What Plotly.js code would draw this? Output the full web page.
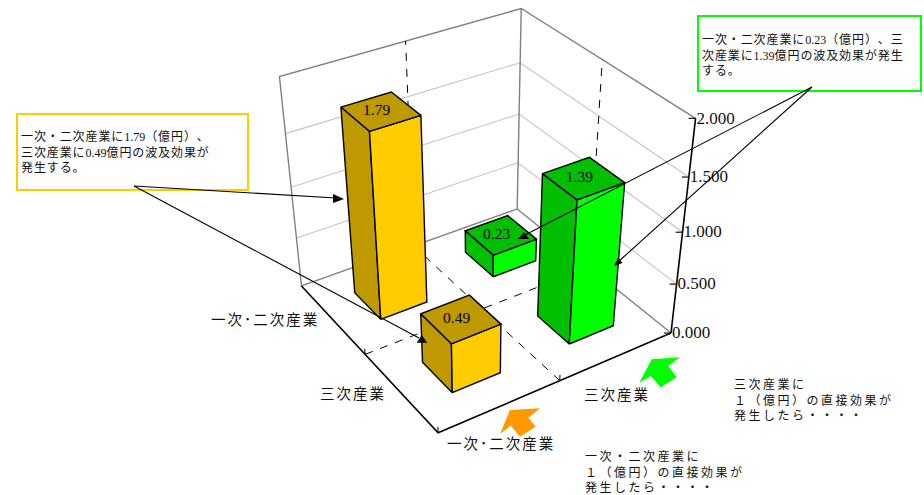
<!DOCTYPE html>
<html lang="ja">
<head>
<meta charset="utf-8">
<title>波及効果</title>
<script src="https://cdn.plot.ly/plotly-3.0.1.min.js"></script>
<style>
html, body { margin: 0; padding: 0; background: #fff; }
#chart { width: 924px; height: 495px; }
#chart text, #chart tspan { text-spacing-trim: space-all; font-feature-settings: "palt" 0; }
</style>
</head>
<body>
<div id="chart"></div>
<script>
// Inter-industry ripple effects: direct effect of one 億円 by source sector and receiving sector.
const sourceCategories = ['一次･二次産業', '三次産業'];
const receiverCategories = ['三次産業', '一次･二次産業'];
const rippleValues = [
  [0.49, 1.39],   // receiver 三次産業: source 一次・二次, source 三次
  [1.79, 0.23]    // receiver 一次・二次産業: source 一次・二次, source 三次
];
const heightTicks = [0, 0.5, 1, 1.5, 2];
const heightMax = 2;
const barHalfWidth = 0.1;

const SERIF = "Liberation Serif";
const GOTHIC = "Noto Sans CJK JP";
const AMBER = { side: '#BF9900', front: '#FFCC00' };
const GREEN = { side: '#00BF00', front: '#00FF00' };
const sourceColors = [AMBER, GREEN];

// Perspective view: model (u, v, z) -> screen, fitted by least squares on the box corners.
const viewAnchors = [
  [0, 0, 0, 438, 433], [1, 0, 0, 671, 332.7], [0, 1, 0, 301.7, 285.7], [1, 1, 0, 516.7, 209.3],
  [1, 1, 2, 521.7, 8.3], [0, 1, 2, 279.3, 76.7], [1, 0, 2, 695, 118.3],
  [1, 0, 1, 682.3, 232.3], [1, 0, 0.5, 677.3, 284], [1, 0, 1.5, 689, 177.3]
];

function solveLinear(A, b) {
  const n = b.length, M = A.map((r, i) => r.concat(b[i]));
  for (let c = 0; c < n; c++) {
    let p = c;
    for (let r = c + 1; r < n; r++) if (Math.abs(M[r][c]) > Math.abs(M[p][c])) p = r;
    [M[c], M[p]] = [M[p], M[c]];
    for (let r = 0; r < n; r++) {
      if (r === c) continue;
      const f = M[r][c] / M[c][c];
      for (let k = c; k <= n; k++) M[r][k] -= f * M[c][k];
    }
  }
  return M.map((r, i) => r[n] / r[i]);
}

function fitView(anchors) {
  const rows = [], rhs = [];
  anchors.forEach(([u, v, z, X, Y]) => {
    rows.push([u, v, z, 1, 0, 0, 0, 0, -X * u, -X * v, -X * z]); rhs.push(X);
    rows.push([0, 0, 0, 0, u, v, z, 1, -Y * u, -Y * v, -Y * z]); rhs.push(Y);
  });
  const N = 11, AtA = [], Atb = [];
  for (let i = 0; i < N; i++) {
    AtA.push([]);
    for (let j = 0; j < N; j++) AtA[i].push(rows.reduce((s, r) => s + r[i] * r[j], 0));
    Atb.push(rows.reduce((s, r, k) => s + r[i] * rhs[k], 0));
  }
  return solveLinear(AtA, Atb);
}

const P = fitView(viewAnchors);
function project(u, v, z) {
  const w = P[8] * u + P[9] * v + P[10] * z + 1;
  return [(P[0] * u + P[1] * v + P[2] * z + P[3]) / w, (P[4] * u + P[5] * v + P[6] * z + P[7]) / w];
}

const traces = [];
function polyline(points, line) {
  const xy = points.map(p => project(p[0], p[1], p[2]));
  traces.push({
    type: 'scatter', mode: 'lines', hoverinfo: 'skip', showlegend: false,
    x: xy.map(p => p[0]), y: xy.map(p => p[1]), line
  });
}
function face(points, fill) {
  const xy = points.concat([points[0]]).map(p => project(p[0], p[1], p[2]));
  traces.push({
    type: 'scatter', mode: 'lines', fill: 'toself', fillcolor: fill, hoverinfo: 'skip', showlegend: false,
    x: xy.map(p => p[0]), y: xy.map(p => p[1]), line: { color: '#000', width: 1.4 }
  });
}

// Back walls and gridlines
const GRID = { color: '#C4C4C4', width: 1.1 };
const FRAME = { color: '#808080', width: 1.4 };
const INK = { color: '#000', width: 1.6 };
heightTicks.slice(1, -1).forEach(z => polyline([[0, 1, z], [1, 1, z], [1, 0, z]], GRID));
polyline([[0, 1, 0], [0, 1, heightMax], [1, 1, heightMax], [1, 0, heightMax]], FRAME);
polyline([[1, 1, heightMax], [1, 1, 0]], FRAME);
polyline([[0, 1, 0], [1, 1, 0], [1, 0, 0]], FRAME);

// Category dividers across the floor and up the walls
const DASH = { color: '#000', width: 1, dash: '8px,8px' };
polyline([[0, 0.5, 0], [1, 0.5, 0], [1, 0.5, heightMax]], DASH);
polyline([[0.5, 0, 0], [0.5, 1, 0], [0.5, 1, heightMax]], DASH);

// Floor front edges
polyline([[0, 1, 0], [0, 0, 0], [1, 0, 0]], INK);
[[0.5, 0], [0, 0], [0, 0.5]].forEach(([u, v]) => polyline([[u, v, 0], [u, v, 0.06]], { color: '#000', width: 1 }));

// Bars, far cells first
const cells = [[1, 1], [0, 1], [1, 0], [0, 0]];
const labelX = [], labelY = [], labelText = [];
cells.forEach(([s, r]) => {
  const value = rippleValues[r][s];
  const uc = 0.25 + 0.5 * s, vc = 0.25 + 0.5 * r, h = barHalfWidth;
  const u0 = uc - h, u1 = uc + h, v0 = vc - h, v1 = vc + h;
  const c = sourceColors[s];
  face([[u0, v0, 0], [u0, v1, 0], [u0, v1, value], [u0, v0, value]], c.side);
  face([[u0, v0, 0], [u1, v0, 0], [u1, v0, value], [u0, v0, value]], c.front);
  face([[u0, v0, value], [u1, v0, value], [u1, v1, value], [u0, v1, value]], c.side);
  const t = [[u0, v0], [u1, v0], [u1, v1], [u0, v1]].map(q => project(q[0], q[1], value));
  labelX.push(t.reduce((a, q) => a + q[0], 0) / 4 - 4);
  labelY.push(t.reduce((a, q) => a + q[1], 0) / 4);
  labelText.push(value.toFixed(2));
});
traces.push({
  type: 'scatter', mode: 'text', hoverinfo: 'skip', showlegend: false,
  x: labelX, y: labelY, text: labelText, textposition: 'middle center',
  textfont: { family: SERIF, size: 15.5, color: '#000' }
});

// Height axis on the right corner
polyline([[1, 0, 0], [1, 0, heightMax]], INK);
const tickPts = heightTicks.map(z => project(1, 0, z));
tickPts.forEach(p => traces.push({
  type: 'scatter', mode: 'lines', hoverinfo: 'skip', showlegend: false,
  x: [p[0] - 7, p[0]], y: [p[1], p[1]], line: { color: '#000', width: 1.1 }
}));
traces.push({
  type: 'scatter', mode: 'text', hoverinfo: 'skip', showlegend: false,
  x: tickPts.map(p => p[0] + 1), y: tickPts.map(p => p[1] + 1),
  text: heightTicks.map(z => z.toFixed(3)), textposition: 'middle right',
  textfont: { family: SERIF, size: 17, color: '#111' }
});

// Text blocks
const num = s => `<span style="font-family:'${SERIF}';letter-spacing:0">${s}</span>`;
function block(x, y, text, size, spacing) {
  return {
    xref: 'x', yref: 'y', x, y, xanchor: 'left', yanchor: 'top', align: 'left', showarrow: false,
    borderpad: 0, font: { family: GOTHIC, size, color: '#111' },
    text: text.map(l => `<span style="letter-spacing:${spacing}px">${l}</span>`).join('<br>')
  };
}
const annotations = [
  block(20, 126, ['一次・二次産業に' + num('1.79') + '（億円）、', '三次産業に' + num('0.49') + '億円の波及効果が', '発生する。'], 12, 0.9),
  block(701, 28.5, ['一次・二次産業に' + num('0.23') + '（億円）、三', '次産業に' + num('1.39') + '億円の波及効果が発生', 'する。'], 12, 0.9),
  block(733, 374, ['三次産業に', '１（億円）の直接効果が', '発生したら・・・・'], 12, 2.5),
  block(584, 446, ['一次・二次産業に', '１（億円）の直接効果が', '発生したら・・・・'], 12, 2.5),
  block(209.5, 307, [sourceCategories[0]], 14.5, 2),
  block(319, 381, [receiverCategories[0]], 14.5, 2),
  block(583, 381.5, [sourceCategories[1]], 14.5, 2),
  block(445.5, 430.5, [sourceCategories[0]], 14.5, 2)
];

// Callout boxes, leader lines, arrowheads and the two pointers under the axes
const tri = (pts, color) => ({
  type: 'path', xref: 'x', yref: 'y', layer: 'above', fillcolor: color, line: { width: 0 },
  path: 'M' + pts.map(p => p.join(',')).join('L') + 'Z'
});
const leader = (a, b) => ({
  type: 'line', xref: 'x', yref: 'y', layer: 'above', x0: a[0], y0: a[1], x1: b[0], y1: b[1],
  line: { color: '#000', width: 1.1 }
});
const box = (x0, y0, x1, y1, color) => ({
  type: 'rect', xref: 'x', yref: 'y', layer: 'below', x0, y0, x1, y1, fillcolor: '#fff',
  line: { color, width: 2 }
});
const shapes = [
  box(17, 114, 248, 190, '#FFCC00'),
  box(698, 16, 921, 91, '#00FF00'),
  leader([134, 186], [336, 198]),
  leader([134, 186], [419, 338]),
  leader([812, 87], [525, 235]),
  leader([812, 87], [618, 262]),
  tri([[344, 199], [333, 194], [333, 203]], '#000'),
  tri([[421.7, 335], [416.7, 342.7], [427.3, 342.7]], '#000'),
  tri([[524, 232], [518, 239], [529, 239]], '#000'),
  tri([[614, 266], [618, 257.5], [622.5, 263]], '#000'),
  tri([[510, 410], [540, 408.3], [528.3, 417.7], [535.7, 426.7], [520, 436.7], [510.7, 425.7], [500, 434]], '#FF9900'),
  tri([[651.7, 359.3], [680, 357.3], [668.3, 366], [676.7, 377.3], [660.7, 387.3], [650.7, 376], [639.3, 382.7]], '#00FF00')
];

Plotly.newPlot('chart', traces, {
  width: 924, height: 495,
  margin: { l: 0, r: 0, t: 0, b: 0 },
  paper_bgcolor: '#fff', plot_bgcolor: '#fff',
  showlegend: false,
  xaxis: { range: [0, 924], visible: false, fixedrange: true },
  yaxis: { range: [495, 0], visible: false, fixedrange: true },
  annotations, shapes
}, { displayModeBar: false, staticPlot: true });
</script>
</body>
</html>
